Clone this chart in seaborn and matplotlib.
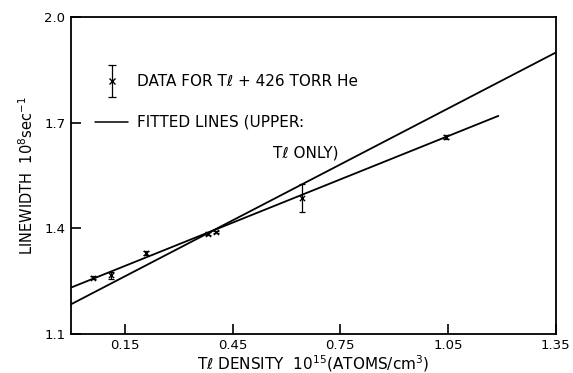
import numpy as np
import pandas as pd
import matplotlib
matplotlib.use("Agg")
import matplotlib.pyplot as plt
import seaborn as sns

# data
density = [0.060, 0.111, 0.210, 0.381, 0.405, 0.644, 1.044]
linewidth = [1.260, 1.266, 1.329, 1.385, 1.390, 1.486, 1.660]
yerr = [0.003, 0.010, 0.006, 0.003, 0.003, 0.040, 0.006]

# fitted lines: intercept, slope, x range
fit_names = ["Tl + He", "Tl only"]
fit_intercept = [1.2315, 1.184]
fit_slope = [0.410, 0.530]
fit_xmax = [1.19, 1.35]

x_ticks = [0.15, 0.45, 0.75, 1.05, 1.35]
y_ticks = [1.1, 1.4, 1.7, 2.0]

sns.set_style("white")
plt.rcParams['font.family'] = ['DejaVu Sans']
plt.rcParams['mathtext.fontset'] = 'dejavusans'
plt.rcParams['text.color'] = 'black'
plt.rcParams['axes.labelcolor'] = 'black'

fig = plt.figure(figsize=(5.73, 3.73), dpi=100)
ax = fig.add_axes([0.124, 0.105, 0.846, 0.849])

df = pd.DataFrame({"x": density, "y": linewidth})

# fitted lines
for name, b, m, xm in zip(fit_names, fit_intercept, fit_slope, fit_xmax):
    xs = np.array([0.0, xm])
    line = pd.DataFrame({"x": xs, "y": b + m * xs})
    sns.lineplot(data=line, x="x", y="y", ax=ax, color="black", lw=1.3)

# data points with error bars
ax.errorbar(density, linewidth, yerr=yerr, fmt="none", ecolor="black",
            elinewidth=0.9, capsize=2.5, capthick=0.9)
sns.scatterplot(data=df, x="x", y="y", ax=ax, marker="x", color="black",
                s=14, linewidth=1.0)

ax.set_xlim(0, 1.35)
ax.set_ylim(1.1, 2.0)
ax.set_xticks(x_ticks)
ax.set_xticklabels(["0.15", "0.45", "0.75", "1.05", "1.35"])
ax.set_yticks(y_ticks)
ax.set_yticklabels(["1.1", "1.4", "1.7", "2.0"])
ax.tick_params(direction="in", length=7, width=1.2, labelsize=9.5,
               colors="black", bottom=True, left=True, pad=4)
for s in ax.spines.values():
    s.set_color("black")
    s.set_linewidth(1.3)

ax.set_xlabel("Tℓ DENSITY  10$^{15}$(ATOMS/cm$^{3}$)", fontsize=11, labelpad=1)
ax.set_ylabel("LINEWIDTH  10$^{8}$sec$^{-1}$", fontsize=10.5, labelpad=6)

# hand-made legend
tr = ax.transAxes
ax.errorbar([0.0845], [0.798], yerr=[0.05], fmt="x", color="black", ms=5,
            elinewidth=0.9, capsize=3, capthick=0.9, transform=tr)
ax.text(0.136, 0.798, "DATA FOR Tℓ + 426 TORR He", transform=tr,
        fontsize=11, va="center", ha="left")
ax.plot([0.049, 0.118], [0.669, 0.669], color="black", lw=1.1, transform=tr)
ax.text(0.136, 0.669, "FITTED LINES (UPPER:", transform=tr,
        fontsize=11, va="center", ha="left")
ax.text(0.416, 0.571, "Tℓ ONLY)", transform=tr,
        fontsize=11, va="center", ha="left")

fig.savefig("out.png", dpi=100)
